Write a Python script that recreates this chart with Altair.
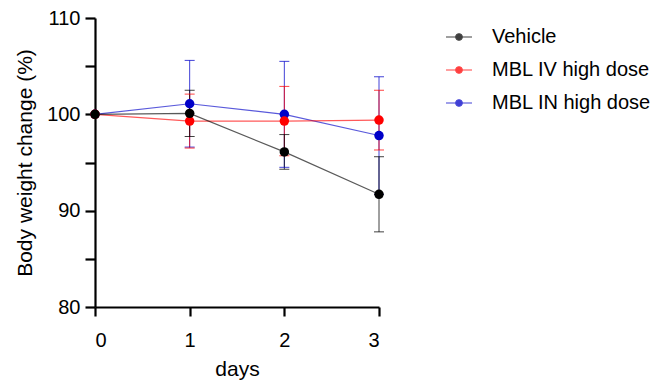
import altair as alt
import pandas as pd

days = [0, 1, 2, 3]
series_names = ["Vehicle", "MBL IV high dose", "MBL IN high dose"]
series_colors = ["#000000", "#ff0000", "#0000c8"]

vehicle_mean = [100.0, 100.1, 96.1, 91.7]
vehicle_err = [0.0, 2.4, 1.8, 3.9]
iv_mean = [100.0, 99.3, 99.3, 99.4]
iv_err = [0.0, 2.8, 3.6, 3.1]
in_mean = [100.0, 101.1, 100.0, 97.8]
in_err = [0.0, 4.5, 5.5, 6.1]

y_ticks = [80, 85, 90, 95, 100, 105, 110]

rows = []
# drawn in reverse so that Vehicle ends up on top, as in the reference
for name, means, errs in reversed(list(zip(series_names,
                                           [vehicle_mean, iv_mean, in_mean],
                                           [vehicle_err, iv_err, in_err]))):
    for d, m, e in zip(days, means, errs):
        rows.append({"day": d, "series": name, "mean": m, "err": e,
                     "lo": m - e, "hi": m + e})
df = pd.DataFrame(rows)

FONT = "Liberation Sans"

color = alt.Color(
    "series:N",
    scale=alt.Scale(domain=series_names, range=series_colors),
    sort=series_names,
    legend=alt.Legend(
        title=None,
        orient="none",
        legendX=350,
        legendY=5,
        symbolType="M-1,0L1,0M-0.25,0A0.25,0.25,0,1,0,0.25,0A0.25,0.25,0,1,0,-0.25,0Z",
        symbolSize=676,
        symbolStrokeWidth=1.2,
        labelFont=FONT,
        labelFontSize=20,
        labelColor="#000000",
        labelOffset=19,
        rowPadding=9,
        labelLimit=300,
    ),
)

x = alt.X(
    "day:Q",
    scale=alt.Scale(domain=[0, 3], nice=False, zero=False),
    axis=alt.Axis(
        title="days", values=days, format="d", grid=False,
        domainColor="#000000", domainWidth=2.2,
        tickColor="#000000", tickWidth=2.2, tickSize=9,
        labelFont=FONT, labelFontSize=20, labelColor="#000000", labelPadding=14,
        titleFont=FONT, titleFontSize=21, titleFontWeight="normal",
        titleColor="#000000", titlePadding=8,
    ),
)
y_axis = alt.Axis(
    title="Body weight change (%)", values=y_ticks, grid=False,
    labelExpr="datum.value % 10 == 0 ? datum.label : ''",
    domainColor="#000000", domainWidth=2.2,
    tickColor="#000000", tickWidth=2.2, tickSize=10,
    labelFont=FONT, labelFontSize=20, labelColor="#000000", labelPadding=5,
    titleFont=FONT, titleFontSize=21, titleFontWeight="normal",
    titleColor="#000000", titlePadding=11,
)
yscale = alt.Scale(domain=[80, 110], nice=False, zero=False)
y = alt.Y("mean:Q", scale=yscale, axis=y_axis)

base = alt.Chart(df)
err_df = df[df["err"] > 0]

rules = alt.Chart(err_df).mark_rule(strokeWidth=1, opacity=0.75).encode(
    x=x,
    y=alt.Y("lo:Q", scale=yscale, axis=y_axis),
    y2="hi:Q",
    color=color,
)
caps_hi = alt.Chart(err_df).mark_tick(orient="horizontal", size=10, thickness=1, opacity=0.75).encode(
    x=x, y=alt.Y("hi:Q"), color=color,
)
caps_lo = alt.Chart(err_df).mark_tick(orient="horizontal", size=10, thickness=1, opacity=0.75).encode(
    x=x, y=alt.Y("lo:Q"), color=color,
)
lines = base.mark_line(strokeWidth=1.2, opacity=0.65).encode(
    x=x, y=y, color=color, order="day:Q",
)
points = base.mark_circle(size=90, opacity=1).encode(
    x=x, y=y, color=color,
)

chart = alt.layer(rules, caps_hi, caps_lo, lines, points).properties(
    width=284,
    height=289,
    background="#ffffff",
    autosize=alt.AutoSizeParams(type="none"),
    padding={"left": 87, "top": 10, "right": 275, "bottom": 74},
).configure_view(stroke="transparent", strokeWidth=0)

chart.save("out.html", embed_options={"renderer": "svg", "actions": False})
